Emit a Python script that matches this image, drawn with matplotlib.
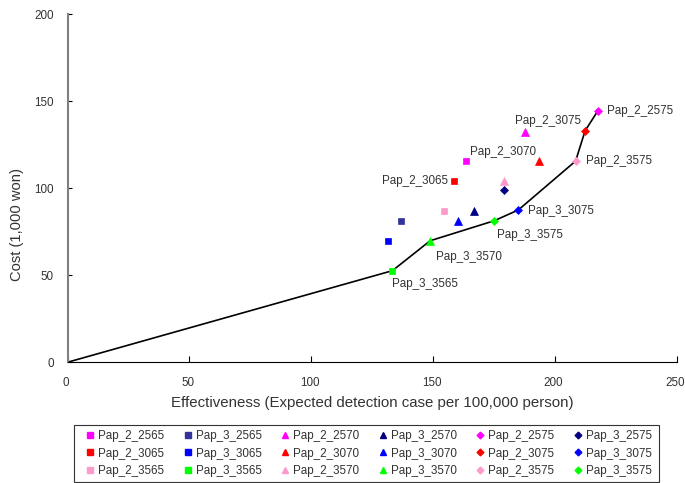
import matplotlib
matplotlib.use("Agg")
import matplotlib.pyplot as plt
import matplotlib.transforms as mtransforms
from matplotlib.lines import Line2D
from matplotlib.patches import Rectangle

plt.rcParams['font.family'] = ['Liberation Sans', 'DejaVu Sans']

names = ["Pap_2_2565", "Pap_3_2565", "Pap_2_2570", "Pap_3_2570", "Pap_2_2575", "Pap_3_2575",
         "Pap_2_3065", "Pap_3_3065", "Pap_2_3070", "Pap_3_3070", "Pap_2_3075", "Pap_3_3075",
         "Pap_2_3565", "Pap_3_3565", "Pap_2_3570", "Pap_3_3570", "Pap_2_3575", "Pap_3_3575"]
effectiveness = [163.6, 136.7, 187.8, 166.9, 217.6, 179.1,
                 158.7, 131.6, 193.5, 160.2, 212.4, 185.0,
                 154.4, 133.3, 179.1, 148.8, 208.5, 175.1]
cost = [115.8, 81.3, 132.5, 87.1, 144.4, 98.8,
        104.3, 69.8, 115.6, 81.3, 133.0, 87.5,
        87.1, 52.6, 104.3, 69.8, 115.6, 81.3]
colors = ["#FF00FF", "#333399", "#FF00FF", "#000080", "#FF00FF", "#000080",
          "#FF0000", "#0000FF", "#FF0000", "#0000FF", "#FF0000", "#0000FF",
          "#FF99CC", "#00FF00", "#FF99CC", "#00FF00", "#FF99CC", "#00FF00"]
markers = ["s", "s", "^", "^", "D", "D"] * 3

frontier = ["Pap_3_3565", "Pap_3_3570", "Pap_3_3575", "Pap_3_3075", "Pap_2_3575", "Pap_2_3075", "Pap_2_2575"]
labels_shown = {
    "Pap_2_2575": (9, 0, "left"),
    "Pap_2_3075": (-70, 10, "left"),
    "Pap_2_3070": (-69, 9, "left"),
    "Pap_2_3065": (-6, 0, "right"),
    "Pap_2_3575": (10, 0, "left"),
    "Pap_3_3075": (10, -1, "left"),
    "Pap_3_3575": (3, -14, "left"),
    "Pap_3_3570": (6, -16, "left"),
    "Pap_3_3565": (0, -13, "left"),
}

W, H = 685, 483
fig = plt.figure(figsize=(6.85, 4.83), dpi=100)
ax = fig.add_axes([67.7 / W, 1 - 362.2 / H, 609 / W, 348 / H])

idx = {n: i for i, n in enumerate(names)}
fx = [0] + [effectiveness[idx[n]] for n in frontier]
fy = [0] + [cost[idx[n]] for n in frontier]
ax.plot(fx, fy, color="black", lw=1.2, zorder=2)

msize = {"s": 5.0, "^": 5.5, "D": 3.8}
handles = {}
for n, x, y, c, m in zip(names, effectiveness, cost, colors, markers):
    ax.plot([x], [y], marker=m, color=c, markersize=msize[m], linestyle="none", zorder=3, markeredgewidth=0.5)
    handles[n] = Line2D([], [], marker=m, color=c, markersize=msize[m] * 0.9, linestyle="none")

tc = "#333333"
for n, (dx, dy, ha) in labels_shown.items():
    ax.annotate(n, (effectiveness[idx[n]], cost[idx[n]]), xytext=(dx, dy), textcoords="offset pixels",
                ha=ha, va="center", fontsize=8.4, color=tc)

ax.set_xlim(0, 250)
ax.set_ylim(0, 200)
ax.set_xticks([0, 50, 100, 150, 200, 250])
ax.set_yticks([0, 50, 100, 150, 200])
ax.spines["top"].set_visible(False)
ax.spines["right"].set_visible(False)
ax.spines["left"].set_color("#808080")
ax.spines["left"].set_linewidth(1.5)
ax.spines["bottom"].set_color("black")
ax.tick_params(axis="x", direction="in", length=4, pad=11, labelsize=8.4, labelcolor=tc)
ax.tick_params(axis="y", direction="in", length=3, pad=10, labelsize=8.4, labelcolor=tc)
shift = mtransforms.ScaledTranslation(-1.5 / 100, 0, fig.dpi_scale_trans)
for lbl in ax.get_xticklabels():
    lbl.set_transform(lbl.get_transform() + shift)
ax.set_xlabel("Effectiveness (Expected detection case per 100,000 person)", fontsize=10.8, color=tc)
ax.set_ylabel("Cost (1,000 won)", fontsize=10.6, color=tc)
ax.xaxis.set_label_coords(0.4997, -0.097)
ax.yaxis.set_label_coords(-0.0718, 0.396)

# legend ordered column-major so rows read as in the reference
order = []
for col in range(6):
    for row in range(3):
        order.append(names[row * 6 + col])
leg = fig.legend([handles[n] for n in order], order, ncol=6, loc="center",
                 bbox_to_anchor=(85.4 / W, 1 - 482 / H, (652 - 85.4) / W, 57 / H),
                 mode="expand", fontsize=8.4, frameon=False,
                 handlelength=0.8, handletextpad=0.3, columnspacing=0.5, borderaxespad=0,
                 labelspacing=0.5, borderpad=0)
for t in leg.get_texts():
    t.set_color(tc)
fig.patches.append(Rectangle((74.3 / W, 1 - 482 / H), (659 - 74.3) / W, 57 / H,
                             transform=fig.transFigure, fill=False, edgecolor="#333333", lw=0.8))

fig.savefig("out.png", dpi=100)
